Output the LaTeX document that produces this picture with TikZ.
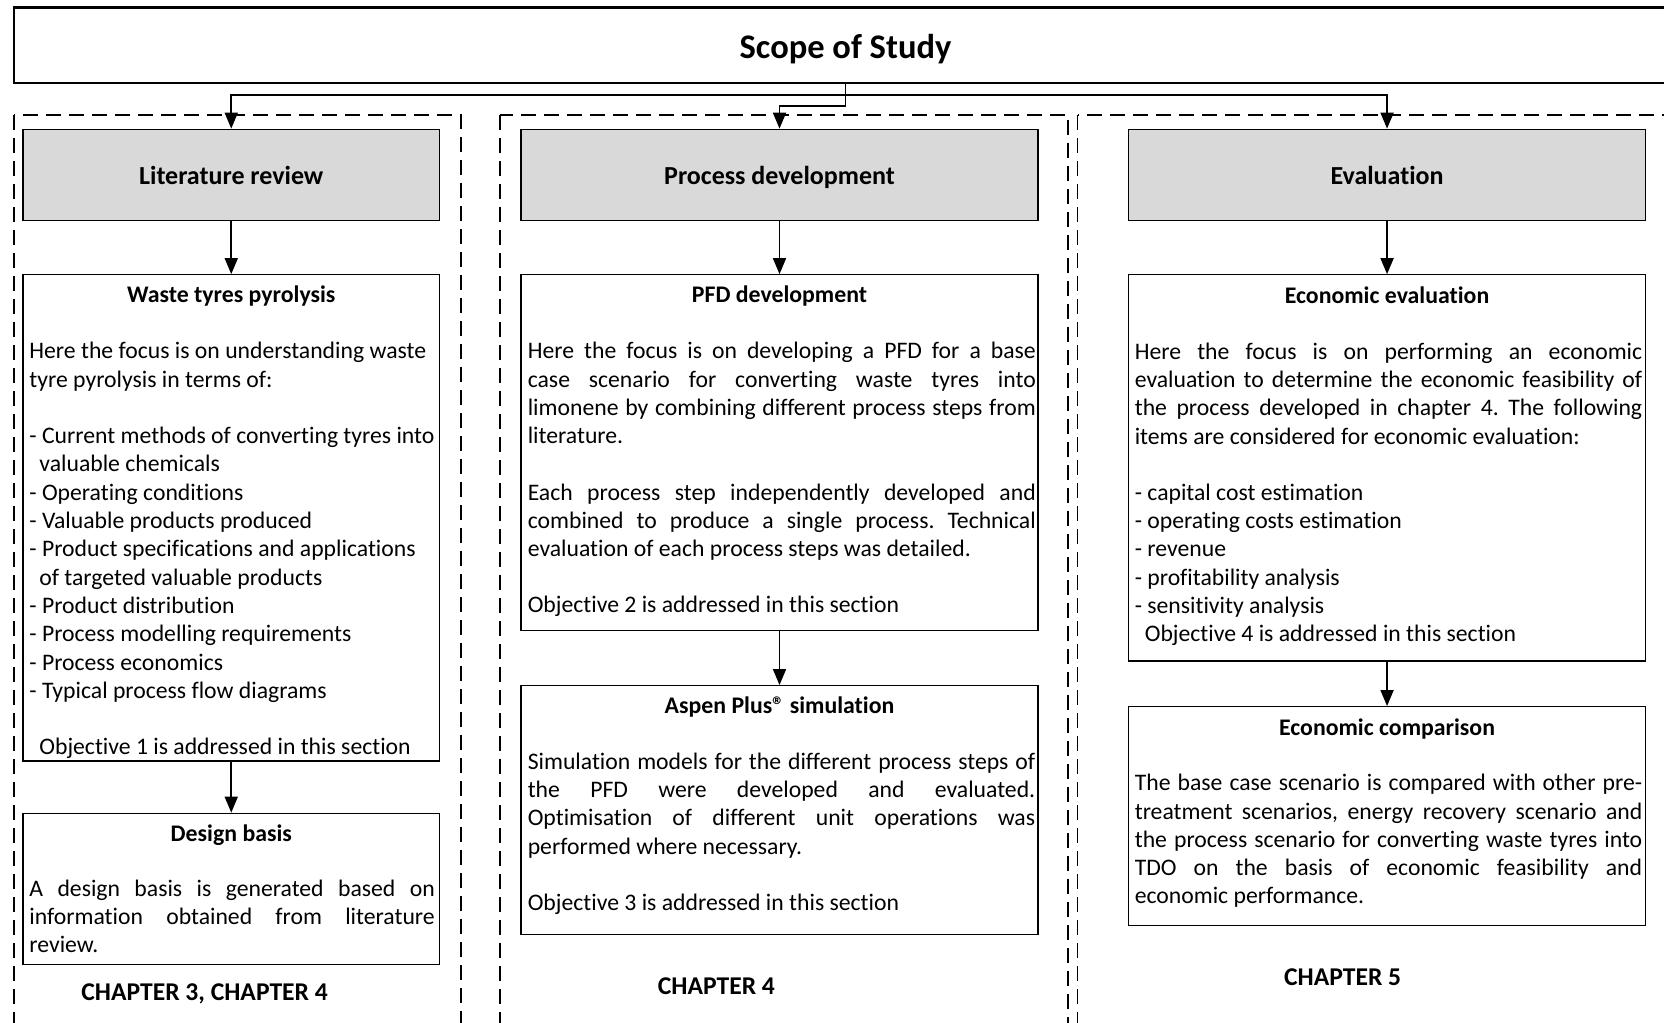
\documentclass[tikz,border=0pt]{standalone}
\usepackage{fontspec}
\setmainfont{Carlito}[Ligatures=NoCommon]
\usetikzlibrary{arrows.meta,fit}

\definecolor{headgray}{HTML}{D9D9D9}
\frenchspacing

\begin{document}
\begin{tikzpicture}[x=0.5pt,y=-0.5pt,
  box/.style={draw=black, line width=0.65pt, inner sep=0pt},
  headbox/.style={box, fill=headgray},
  headtext/.style={font=\fontsize{13}{15}\selectfont\bfseries, anchor=mid, inner sep=0pt},
  topbox/.style={draw=black, line width=1.15pt, inner sep=0pt},
  frame/.style={draw=black, line width=0.9pt, dash pattern=on 7.5pt off 4pt},
  link/.style={draw=black, line width=0.85pt, -{Triangle[length=8pt,width=6.5pt]}},
  boxtitle/.style={font=\fontsize{11.9}{14}\selectfont\bfseries, anchor=mid, inner sep=0pt},
  chapter/.style={font=\fontsize{12.8}{15}\selectfont\bfseries, anchor=mid, inner sep=0pt},
  body/.style={font=\fontsize{11.85}{14.15}\selectfont, anchor=mid west, inner sep=0pt, align=flush left, text width=240pt},
  just/.style={font=\fontsize{11.85}{14.15}\selectfont, anchor=mid west, inner sep=0pt, align=justify},
]
\useasboundingbox (0,0) rectangle (1664,1022);
\clip (0,0) rectangle (1664,1022);

% chapter frames
\draw[frame] (14,115) rectangle (461,1060);
\draw[frame] (500,115) rectangle (1068,1060);
\draw[frame] (1077.5,115) rectangle (1720,1060);

% top banner
\node[topbox, fit={(14,7.5) (1677,83.3)}] (scope) {};
\node[font=\fontsize{17.25}{20}\selectfont\bfseries, anchor=mid, inner sep=0pt] (scopetxt) at (845.5,53.5) {Scope of Study};

% column headers
\node[headbox, fit={(23,129.3) (439.5,220.7)}] (lit) {};
\node[headbox, fit={(521,129.3) (1038,220.7)}] (proc) {};
\node[headbox, fit={(1128.3,129.3) (1645.8,220.7)}] (eval) {};
\node[headtext] (littxt) at (lit.center) [yshift=-2.3pt] {Literature review};
\node[headtext] (proctxt) at (proc.center) [yshift=-2.3pt] {Process development};
\node[headtext] (evaltxt) at (eval.center) [yshift=-2.3pt] {Evaluation};

% content boxes
\node[box, fit={(23,274.8) (439.5,761)}] (waste) {};
\node[box, fit={(23,813.3) (439.5,964.5)}] (design) {};
\node[box, fit={(521,274.8) (1038,630.7)}] (pfd) {};
\node[box, fit={(521,685.7) (1038,934.3)}] (aspen) {};
\node[box, fit={(1128.3,274.8) (1645.8,661)}] (econ) {};
\node[box, fit={(1128.3,706.7) (1645.8,925.3)}] (comp) {};

% connectors from the banner
\coordinate (hub) at (845.5,95);
\coordinate (drop) at (845.5,106);
\draw[line width=0.85pt] (scope.south -| hub) -- (drop);
\draw[link] (hub) -| (lit.north);
\draw[link] (hub) -| (eval.north);
\draw[link] (drop) -| (proc.north);

% connectors inside the columns
\draw[link] (lit) -- (waste);
\draw[link] (waste) -- (design);
\draw[link] (proc) -- (pfd);
\draw[link] (pfd) -- (aspen);
\draw[link] (eval) -- (econ);
\draw[link] (econ) -- (comp);

% literature review column
\node[boxtitle] (t1) at (231.3,297.5) {Waste tyres pyrolysis};
\node[body] (p1) at (29,354) {Here the focus is on understanding waste\\
tyre pyrolysis in terms of:\\[14.15pt]
- Current methods of converting tyres into\\
\hspace*{5pt}valuable chemicals\\
- Operating conditions\\
- Valuable products produced\\
- Product specifications and applications\\
\hspace*{5pt}of targeted valuable products\\
- Product distribution\\
- Process modelling requirements\\
- Process economics\\
- Typical process flow diagrams\\[14.15pt]
\hspace*{5pt}Objective 1 is addressed in this section};

\node[boxtitle] (t2) at (231.3,836.5) {Design basis};
\node[just, text width=202.7pt] (p2) at (29,891.5) {A design basis is generated based on\linebreak
information obtained from literature\linebreak review.};

\node[chapter] (c1) at (204.6,996) {CHAPTER 3, CHAPTER 4};

% process development column
\node[boxtitle] (t3) at (779.5,298) {PFD development};
\node[just, text width=254pt] (p3) at (527.4,354) {Here the focus is on developing a PFD for a base\linebreak
case scenario for converting waste tyres into\linebreak
limonene by combining different process steps from\linebreak literature.};
\node[just, text width=254pt] (p4) at (527.4,495.5) {Each process step independently developed and\linebreak
combined to produce a single process. Technical\linebreak
evaluation of each process steps was detailed.};
\node[body] (p5) at (527.4,608) {Objective 2 is addressed in this section};

\node[boxtitle] (t4) at (779.5,709) {Aspen Plus\textregistered{} simulation};
\node[just, text width=253.7pt] (p6) at (527.4,764.5) {Simulation models for the different process steps of\linebreak
the PFD were developed and evaluated.\linebreak
Optimisation of different unit operations was\linebreak
performed where necessary.};
\node[body] (p7) at (527.4,906) {Objective 3 is addressed in this section};

\node[chapter] (c2) at (716.4,989.5) {CHAPTER 4};

% evaluation column
\node[boxtitle] (t5) at (1387,299) {Economic evaluation};
\node[just, text width=253.7pt] (p8) at (1134.4,354.5) {Here the focus is on performing an economic\linebreak
evaluation to determine the economic feasibility of\linebreak
the process developed in chapter 4. The following\linebreak
items are considered for economic evaluation:};
\node[body] (p9) at (1134.4,495.5) {- capital cost estimation\\
- operating costs estimation\\
- revenue\\
- profitability analysis\\
- sensitivity analysis\\
\hspace*{5pt}Objective 4 is addressed in this section};

\node[boxtitle] (t6) at (1387,730.5) {Economic comparison};
\node[just, text width=253.7pt] (p10) at (1134.4,786) {The base case scenario is compared with other pre-\linebreak
treatment scenarios, energy recovery scenario and\linebreak
the process scenario for converting waste tyres into\linebreak
TDO on the basis of economic feasibility and\linebreak
economic performance.};

\node[chapter] (c3) at (1342.6,981) {CHAPTER 5};
\end{tikzpicture}
\end{document}
